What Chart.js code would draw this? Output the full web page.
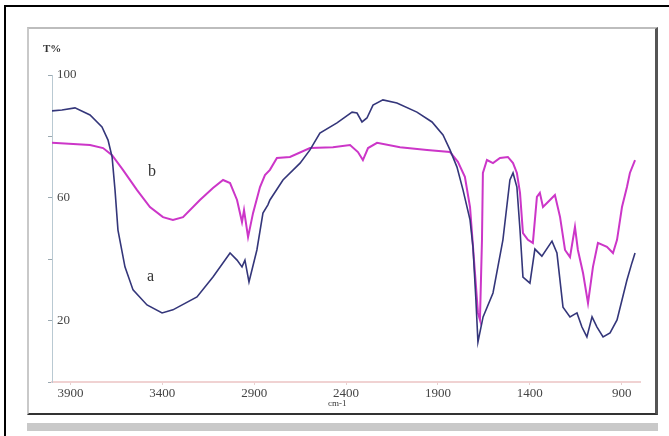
<!DOCTYPE html>
<html>
<head>
<meta charset="utf-8">
<script src="https://cdn.jsdelivr.net/npm/chart.js@4.4.0/dist/chart.umd.min.js"></script>
<style>
    body { margin: 0; background: #fff; }
    #wrap { position: relative; width: 669px; height: 436px; overflow: hidden; }
    .outer { position: absolute; left: 4px; top: 5px; width: 680px; height: 450px; border-top: 2px solid #000; border-left: 2px solid #000; }
    .frame { position: absolute; left: 27px; top: 27px; width: 626px; height: 384px;
             border-top: 2px solid #bdbdbd; border-left: 2px solid #c9c9c9; border-right: 3px solid #555; border-bottom: 2px solid #333; }
    .band { position: absolute; left: 27px; top: 423px; width: 631px; height: 8px; background: #c9c9c9; }
    .lbl { position: absolute; font-family: 'Liberation Serif', 'DejaVu Serif', serif; color: #333; line-height: 1; }
    canvas { position: absolute; left: 0; top: 0; }
</style>
</head>
<body>
<div id="wrap">
    <div class="outer"></div>
    <div class="frame"></div>
    <div class="band"></div>
    <canvas id="irChart" width="669" height="436"></canvas>
    <span class="lbl" style="left:43px; top:43px; font-size:11px; font-weight:bold;">T%</span>
    <span class="lbl" style="left:148px; top:163px; font-size:16px;">b</span>
    <span class="lbl" style="left:147px; top:268px; font-size:16px;">a</span>
    <span class="lbl" style="left:328px; top:399px; font-size:9px;">cm-1</span>
</div>
<script>
// wavenumber (cm-1) and transmittance (%)
const waveA = [4000, 3946, 3875, 3793, 3728, 3695, 3673, 3657, 3641, 3603, 3559, 3483, 3401, 3342, 3211,
    3124, 3031, 2993, 2966, 2950, 2928, 2885, 2852, 2825, 2814, 2743, 2650, 2596, 2542, 2449, 2367,
    2340, 2313, 2286, 2253, 2199, 2123, 2014, 1932, 1872, 1834, 1796, 1763, 1725, 1709, 1693, 1682,
    1654, 1600, 1546, 1508, 1491, 1470, 1453, 1437, 1399, 1372, 1334, 1279, 1252, 1219, 1181, 1143,
    1116, 1089, 1061, 1034, 1001, 963, 925, 898, 871, 844, 827];
const transA = [88.3, 88.6, 89.3, 87.0, 83.1, 78.8, 73.3, 62.5, 49.5, 37.5, 30.0, 25.1, 22.5, 23.5, 27.7,
    34.2, 42.0, 39.7, 37.5, 39.7, 32.6, 43.0, 55.0, 57.7, 59.3, 65.8, 71.3, 75.6, 81.1, 84.4, 87.9,
    87.6, 84.7, 86.0, 90.2, 91.9, 90.9, 87.9, 84.7, 80.5, 75.6, 70.0, 62.5, 52.8, 44.0, 26.7, 13.0,
    21.2, 29.0, 46.3, 65.8, 68.1, 63.5, 49.5, 34.2, 32.2, 43.3, 41.0, 45.9, 42.0, 24.4, 21.2, 22.5,
    17.9, 14.7, 21.2, 17.9, 14.7, 16.0, 20.2, 26.7, 33.2, 38.8, 42.0];

const waveB = [4000, 3793, 3722, 3673, 3614, 3537, 3467, 3396, 3342, 3287, 3195, 3124, 3069, 3031, 2993,
    2966, 2955, 2933, 2906, 2868, 2841, 2814, 2776, 2705, 2596, 2471, 2378, 2335, 2308, 2280, 2231,
    2106, 1959, 1834, 1791, 1753, 1725, 1698, 1682, 1671, 1660, 1655, 1633, 1600, 1562, 1519, 1491,
    1470, 1453, 1437, 1410, 1383, 1361, 1345, 1328, 1290, 1263, 1235, 1208, 1181, 1154, 1138, 1110,
    1083, 1056, 1029, 980, 947, 925, 898, 871, 855, 827];
const transB = [77.9, 77.2, 76.2, 73.9, 69.1, 62.5, 57.0, 53.7, 52.8, 53.7, 59.3, 63.2, 65.8, 64.8, 59.3,
    52.1, 56.0, 47.2, 55.0, 63.5, 67.4, 69.1, 73.0, 73.3, 76.2, 76.5, 77.2, 74.9, 72.3, 76.2, 77.9,
    76.5, 75.6, 74.9, 71.7, 66.8, 57.0, 35.5, 22.5, 20.2, 46.3, 68.1, 72.3, 71.3, 73.0, 73.3, 71.3,
    68.1, 61.6, 48.5, 46.3, 45.3, 60.3, 61.6, 57.0, 59.3, 60.9, 53.7, 43.0, 40.7, 50.5, 43.0, 35.5,
    25.7, 37.5, 45.3, 44.0, 42.0, 46.3, 57.0, 63.5, 68.1, 72.3];

const xTicks = [3900, 3400, 2900, 2400, 1900, 1400, 900];
const yTicks = [0, 20, 40, 60, 80, 100];
const yLabelled = [100, 60, 20];

const toPoints = (w, t) => w.map((v, i) => ({ x: v, y: t[i] }));
const tickFont = { family: "'Liberation Serif', 'DejaVu Serif', serif", size: 13 };

new Chart(document.getElementById('irChart').getContext('2d'), {
    type: 'line',
    data: {
        datasets: [
            { label: 'a', data: toPoints(waveA, transA), borderColor: '#34367a', borderWidth: 1.6, pointRadius: 0, tension: 0 },
            { label: 'b', data: toPoints(waveB, transB), borderColor: '#cc36c8', borderWidth: 2, pointRadius: 0, tension: 0 }
        ]
    },
    options: {
        responsive: false,
        animation: false,
        layout: { padding: { left: 42, right: 29, top: 75, bottom: 24 } },
        plugins: { legend: { display: false }, tooltip: { enabled: false } },
        scales: {
            x: {
                type: 'linear',
                reverse: true,
                min: 800,
                max: 4000,
                afterBuildTicks: scale => { scale.ticks = xTicks.map(v => ({ value: v })); },
                afterFit: scale => { scale.height = 30; },
                border: { color: '#f0d2d2', width: 2 },
                grid: { drawOnChartArea: false, tickLength: 3, color: '#e8d0d0' },
                ticks: { font: tickFont, color: '#444', padding: 1, maxRotation: 0, autoSkip: false,
                         callback: v => String(v) }
            },
            y: {
                min: 0,
                max: 100,
                afterBuildTicks: scale => { scale.ticks = yTicks.map(v => ({ value: v })); },
                afterFit: scale => { scale.width = 10; },
                border: { color: '#b9c9d2', width: 1 },
                grid: { drawOnChartArea: false, tickLength: 4, color: '#9aa8b0' },
                ticks: {
                    mirror: true,
                    padding: 5,
                    font: tickFont,
                    color: '#444',
                    callback: v => yLabelled.includes(v) ? String(v) : ''
                }
            }
        }
    }
});
</script>
</body>
</html>
